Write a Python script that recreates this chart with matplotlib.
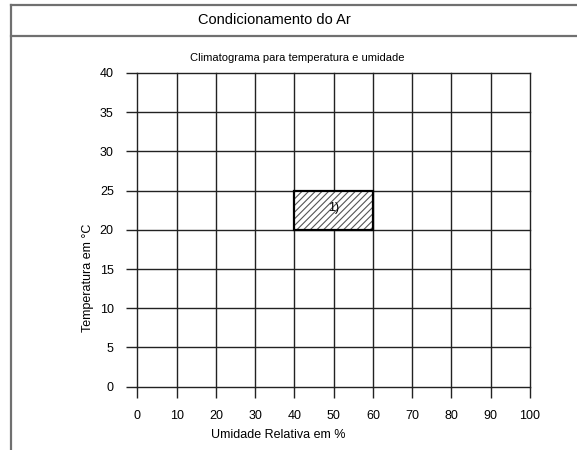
import matplotlib
matplotlib.use("Agg")
import matplotlib.pyplot as plt
from matplotlib.lines import Line2D
from matplotlib.patches import Rectangle

plt.rcParams['font.family'] = ['Liberation Sans', 'DejaVu Sans']
plt.rcParams['hatch.linewidth'] = 0.8

# data
x_ticks = [0, 10, 20, 30, 40, 50, 60, 70, 80, 90, 100]
y_ticks = [0, 5, 10, 15, 20, 25, 30, 35, 40]
comfort_humidity = [40, 60]     # % relative humidity
comfort_temp = [20, 25]         # deg C
zone_label = "1)"

fig = plt.figure(figsize=(5.77, 4.5), dpi=100)
ax = fig.add_axes([0.238, 0.1407, 0.6806, 0.6971])

ax.set_xlim(x_ticks[0], x_ticks[-1])
ax.set_ylim(y_ticks[0], y_ticks[-1])
ax.set_xticks(x_ticks)
ax.set_yticks(y_ticks)
ax.grid(True, color='#222222', linewidth=1.0)
ax.set_axisbelow(True)
for line in ax.get_xgridlines() + ax.get_ygridlines():
    line.set_clip_on(False)
for s in ax.spines.values():
    s.set_visible(False)
ax.tick_params(length=8, width=1.0, color='#222222', labelsize=9, pad=9)

w = comfort_humidity[1] - comfort_humidity[0]
h = comfort_temp[1] - comfort_temp[0]
ax.add_patch(Rectangle((comfort_humidity[0], comfort_temp[0]), w, h,
                       facecolor='white', edgecolor='#555555', linewidth=0,
                       hatch='/////', zorder=3))
ax.add_patch(Rectangle((comfort_humidity[0], comfort_temp[0]), w, h,
                       facecolor='none', edgecolor='black', linewidth=1.6,
                       zorder=4))
ax.text(sum(comfort_humidity) / 2, sum(comfort_temp) / 2 + 0.3, zone_label,
        ha='center', va='center', fontsize=9, zorder=4)

# frame around the sheet
frame = '#707070'
fig.add_artist(Line2D([10.5 / 577, 1], [1 - 4.5 / 450] * 2, color=frame, lw=1.6))
fig.add_artist(Line2D([10.5 / 577, 1], [1 - 36 / 450] * 2, color=frame, lw=1.6))
fig.add_artist(Line2D([10.5 / 577] * 2, [0, 1 - 4.5 / 450], color=frame, lw=1.6))

fig.text(274 / 577, 1 - 20 / 450, 'Condicionamento do Ar',
         ha='center', va='center', fontsize=10.5)
fig.text(297 / 577, 1 - 58 / 450, 'Climatograma para temperatura e umidade',
         ha='center', va='center', fontsize=8)
fig.text(278 / 577, 1 - 435 / 450, 'Umidade Relativa em %',
         ha='center', va='center', fontsize=9)
fig.text(88 / 577, 1 - 278 / 450, 'Temperatura em °C',
         ha='center', va='center', rotation=90, fontsize=9)

fig.savefig('out.png', dpi=100)
